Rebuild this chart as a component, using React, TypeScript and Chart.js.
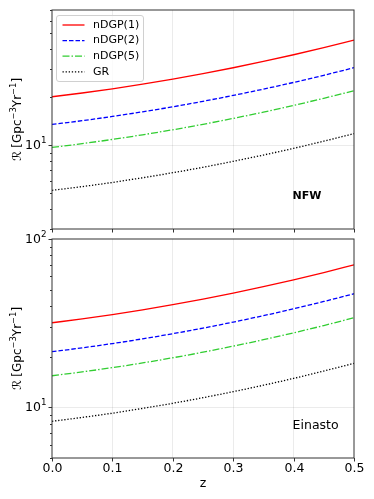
import React, { useEffect, useRef } from 'react';
import { Chart, registerables } from 'chart.js';

Chart.register(...registerables);

// ---------------- data ----------------
const zValues = [0, 0.05, 0.1, 0.15, 0.2, 0.25, 0.3, 0.35, 0.4, 0.45, 0.5];
const seriesLabels = ['nDGP(1)', 'nDGP(2)', 'nDGP(5)', 'GR'];

const nfwNDGP1 = [20.1, 21.22, 22.54, 24.09, 25.91, 28.03, 30.5, 33.39, 36.78, 40.77, 45.46];
const nfwNDGP2 = [13.5, 14.25, 15.14, 16.18, 17.4, 18.82, 20.49, 22.43, 24.7, 27.38, 30.53];
const nfwNDGP5 = [9.7, 10.24, 10.88, 11.63, 12.5, 13.52, 14.72, 16.11, 17.75, 19.67, 21.94];
const nfwGR = [5.23, 5.52, 5.86, 6.27, 6.74, 7.29, 7.94, 8.69, 9.57, 10.61, 11.83];

const einNDGP1 = [31.8, 33.52, 35.55, 37.92, 40.69, 43.91, 47.69, 52.07, 57.21, 63.22, 70.29];
const einNDGP2 = [21.4, 22.56, 23.92, 25.52, 27.38, 29.55, 32.09, 35.04, 38.5, 42.54, 47.3];
const einNDGP5 = [15.4, 16.23, 17.21, 18.36, 19.7, 21.26, 23.1, 25.22, 27.7, 30.61, 34.04];
const einGR = [8.26, 8.71, 9.23, 9.85, 10.57, 11.41, 12.39, 13.53, 14.86, 16.42, 18.26];

const xTicks = [0, 0.1, 0.2, 0.3, 0.4, 0.5];
const xTickLabels = ['0.0', '0.1', '0.2', '0.3', '0.4', '0.5'];
const nfwRange = [3, 70];
const einastoRange = [5, 100];
const xTitle = 'z';
const yTitleParts = ['ℛ [Gpc', '−3', 'Yr', '−1', ']'];

// ---------------- styles ----------------
const FONT = '"DejaVu Sans", "Liberation Sans", sans-serif';
const seriesStyles = [
  { color: '#ff0000', dash: [] as number[] },
  { color: '#0000ff', dash: [4.5, 2] },
  { color: '#32cd32', dash: [7, 2, 1.5, 2] },
  { color: '#000000', dash: [1.3, 1.8] },
];
const GRID = 'rgba(0,0,0,0.08)';
const FRAME = '#333333';

type Seg = { t: string; sup?: boolean };

function drawRich(
  ctx: CanvasRenderingContext2D,
  segs: Seg[],
  x: number,
  y: number,
  size: number,
  align: 'left' | 'right' | 'center',
  weight = 'normal'
) {
  const supSize = size * 0.7;
  const widths = segs.map((s) => {
    ctx.font = `${weight} ${s.sup ? supSize : size}px ${FONT}`;
    return ctx.measureText(s.t).width;
  });
  const total = widths.reduce((a, b) => a + b, 0);
  let cx = align === 'left' ? x : align === 'right' ? x - total : x - total / 2;
  ctx.textAlign = 'left';
  ctx.textBaseline = 'middle';
  segs.forEach((s, i) => {
    ctx.font = `${weight} ${s.sup ? supSize : size}px ${FONT}`;
    ctx.fillText(s.t, cx, s.sup ? y - size * 0.38 : y);
    cx += widths[i];
  });
}

type PanelProps = {
  series: number[][];
  range: number[];
  annotation: string;
  annotationBold: boolean;
  annotationSize: number;
  showXLabels: boolean;
  showLegend: boolean;
  height: number;
  padTop: number;
  xAxisHeight: number;
  marginTop: number;
};

function isDecade(v: number | undefined) {
  if (v === undefined || v === null) return false;
  const l = Math.log10(v);
  return Math.abs(l - Math.round(l)) < 1e-9;
}

function decorPlugin(p: PanelProps) {
  return {
    id: 'decor',
    afterDraw(chart: any) {
      const ctx: CanvasRenderingContext2D = chart.ctx;
      const area = chart.chartArea;
      const xs = chart.scales.x;
      const ys = chart.scales.y;
      ctx.save();
      ctx.strokeStyle = FRAME;
      ctx.fillStyle = '#000';
      ctx.lineWidth = 1;

      // frame
      ctx.strokeRect(area.left, area.top, area.right - area.left, area.bottom - area.top);

      // x ticks
      xTicks.forEach((v, i) => {
        const px = Math.round(xs.getPixelForValue(v)) + 0.5;
        ctx.beginPath();
        ctx.moveTo(px, area.bottom);
        ctx.lineTo(px, area.bottom + 3.5);
        ctx.stroke();
        if (p.showXLabels) {
          ctx.font = `12.5px ${FONT}`;
          ctx.textAlign = 'center';
          ctx.textBaseline = 'middle';
          ctx.fillText(xTickLabels[i], px, area.bottom + 10.5);
        }
      });

      // y ticks (major + minor)
      const [ymin, ymax] = p.range;
      const e0 = Math.floor(Math.log10(ymin));
      const e1 = Math.ceil(Math.log10(ymax));
      for (let e = e0; e <= e1; e++) {
        for (let m = 1; m <= 9; m++) {
          const v = m * Math.pow(10, e);
          if (v < ymin - 1e-9 || v > ymax + 1e-9) continue;
          const py = Math.round(ys.getPixelForValue(v)) + 0.5;
          const len = m === 1 ? 3.5 : 2;
          ctx.beginPath();
          ctx.moveTo(area.left - len, py);
          ctx.lineTo(area.left, py);
          ctx.stroke();
          if (m === 1) {
            drawRich(ctx, [{ t: '10' }, { t: String(e), sup: true }], area.left - 5.5, py, 12.5, 'right');
          }
        }
      }

      // y title
      ctx.save();
      ctx.translate(18, (area.top + area.bottom) / 2);
      ctx.rotate(-Math.PI / 2);
      drawRich(
        ctx,
        yTitleParts.map((t, i) => ({ t, sup: i % 2 === 1 })),
        0,
        0,
        12,
        'center'
      );
      ctx.restore();

      // x title
      if (p.showXLabels) {
        ctx.font = `12.5px ${FONT}`;
        ctx.textAlign = 'center';
        ctx.textBaseline = 'middle';
        ctx.fillText(xTitle, (area.left + area.right) / 2, area.bottom + 25.5);
      }

      // annotation
      ctx.font = `${p.annotationBold ? 'bold' : 'normal'} ${p.annotationSize}px ${FONT}`;
      ctx.textAlign = 'left';
      ctx.textBaseline = 'middle';
      ctx.fillText(p.annotation, xs.getPixelForValue(0.4) - 1, area.bottom - 32.5);

      // legend
      if (p.showLegend) {
        const bx = area.left + 4.5;
        const by = area.top + 5.5;
        const bw = 87;
        const bh = 66;
        ctx.beginPath();
        const r = 2.5;
        ctx.moveTo(bx + r, by);
        ctx.lineTo(bx + bw - r, by);
        ctx.arcTo(bx + bw, by, bx + bw, by + r, r);
        ctx.lineTo(bx + bw, by + bh - r);
        ctx.arcTo(bx + bw, by + bh, bx + bw - r, by + bh, r);
        ctx.lineTo(bx + r, by + bh);
        ctx.arcTo(bx, by + bh, bx, by + bh - r, r);
        ctx.lineTo(bx, by + r);
        ctx.arcTo(bx, by, bx + r, by, r);
        ctx.closePath();
        ctx.fillStyle = 'rgba(255,255,255,0.8)';
        ctx.fill();
        ctx.strokeStyle = '#d0d0d0';
        ctx.stroke();
        chart.data.datasets.forEach((ds: any, i: number) => {
          const ry = by + 9.5 + i * 15.6;
          ctx.strokeStyle = ds.borderColor;
          ctx.lineWidth = 1.3;
          ctx.setLineDash(ds.borderDash || []);
          ctx.beginPath();
          ctx.moveTo(bx + 6, ry);
          ctx.lineTo(bx + 28, ry);
          ctx.stroke();
          ctx.setLineDash([]);
          ctx.fillStyle = '#000';
          ctx.font = `11px ${FONT}`;
          ctx.textAlign = 'left';
          ctx.textBaseline = 'middle';
          ctx.fillText(ds.label, bx + 36.5, ry);
        });
      }
      ctx.restore();
    },
  };
}

function Panel(p: PanelProps) {
  const ref = useRef<HTMLCanvasElement | null>(null);
  useEffect(() => {
    if (!ref.current) return;
    const chart = new Chart(ref.current, {
      type: 'line',
      data: {
        datasets: seriesLabels.map((label, i) => ({
          label,
          data: zValues.map((z, j) => ({ x: z, y: p.series[i][j] })),
          borderColor: seriesStyles[i].color,
          borderDash: seriesStyles[i].dash,
          borderWidth: 1.3,
          pointRadius: 0,
          fill: false,
          cubicInterpolationMode: 'monotone',
        })),
      },
      options: {
        animation: false,
        responsive: false,
        maintainAspectRatio: false,
        devicePixelRatio: 1,
        layout: { padding: { left: 0, right: 20, top: p.padTop, bottom: 0 } },
        plugins: { legend: { display: false }, tooltip: { enabled: false } },
        scales: {
          x: {
            type: 'linear',
            min: 0,
            max: 0.5,
            afterBuildTicks: (s: any) => {
              s.ticks = xTicks.map((v) => ({ value: v }));
            },
            afterFit: (s: any) => {
              s.height = p.xAxisHeight;
            },
            ticks: { display: false },
            grid: {
              color: (c: any) =>
                c.tick && c.tick.value > 0.001 && c.tick.value < 0.499 ? GRID : 'transparent',
              drawTicks: false,
              lineWidth: 1,
            },
            border: { display: false },
          },
          y: {
            type: 'logarithmic',
            min: p.range[0],
            max: p.range[1],
            afterFit: (s: any) => {
              s.width = 52;
            },
            ticks: { display: false, autoSkip: false },
            grid: {
              color: (c: any) =>
                c.tick && isDecade(c.tick.value) && c.tick.value > p.range[0] && c.tick.value < p.range[1]
                  ? GRID
                  : 'transparent',
              drawTicks: false,
              lineWidth: 1,
            },
            border: { display: false },
          },
        },
      } as any,
      plugins: [decorPlugin(p)],
    });
    return () => chart.destroy();
  }, []);
  return (
    <canvas
      ref={ref}
      width={374}
      height={p.height}
      style={{ display: 'block', position: 'absolute', left: 0, top: p.marginTop, width: 374, height: p.height }}
    />
  );
}

export default function App() {
  return (
    <div
      style={{
        position: 'fixed',
        left: 0,
        top: 0,
        width: 374,
        height: 499,
        background: '#fff',
      }}
    >
      <Panel
        series={[nfwNDGP1, nfwNDGP2, nfwNDGP5, nfwGR]}
        range={nfwRange}
        annotation="NFW"
        annotationBold={true}
        annotationSize={11}
        showXLabels={false}
        showLegend={true}
        height={234}
        padTop={10}
        xAxisHeight={5}
        marginTop={0}
      />
      <Panel
        series={[einNDGP1, einNDGP2, einNDGP5, einGR]}
        range={einastoRange}
        annotation="Einasto"
        annotationBold={false}
        annotationSize={12.5}
        showXLabels={true}
        showLegend={false}
        height={275}
        padTop={15}
        xAxisHeight={41}
        marginTop={224}
      />
    </div>
  );
}
